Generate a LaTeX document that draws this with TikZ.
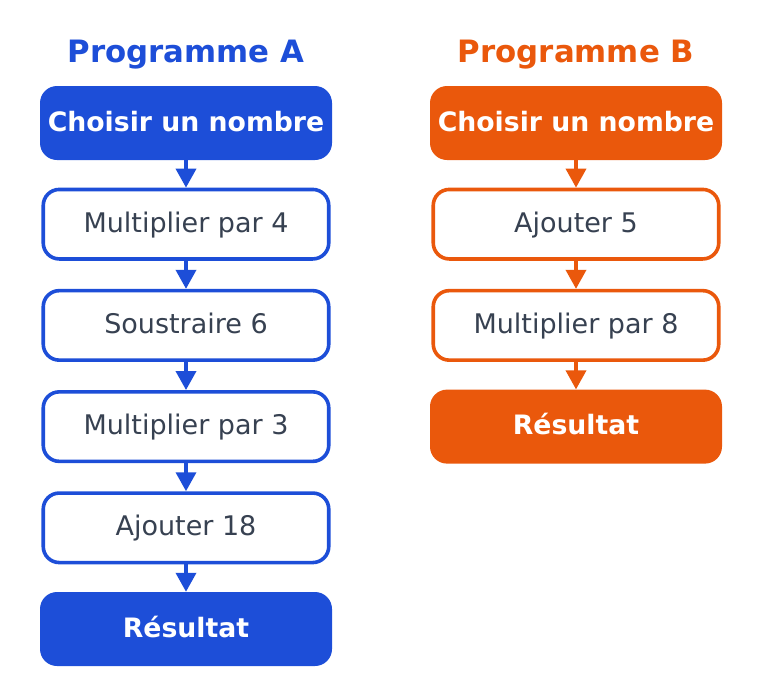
\documentclass[tikz,border=0pt]{standalone}
\usepackage{fontspec}
\setmainfont{DejaVu Sans}
\usetikzlibrary{arrows.meta}
\definecolor{pblue}{HTML}{1D4ED8}
\definecolor{porange}{HTML}{EA580C}
\definecolor{ptext}{HTML}{374151}
\begin{document}
\begin{tikzpicture}[x=1pt,y=-1pt,
  titlestyle/.style={font=\fontsize{30.8}{36}\selectfont\bfseries, anchor=base, inner sep=0pt, text=#1},
  filledbox/.style={fill=#1, draw=none, rounded corners=17pt, minimum width=292pt, minimum height=74pt,
    text=white, font=\fontsize{26.7}{32}\selectfont\bfseries, text height=19.5pt, text depth=3.5pt, inner sep=0pt},
  outbox/.style={draw=#1, line width=3.6pt, fill=white, rounded corners=16pt, minimum width=285.5pt, minimum height=69.5pt,
    text=ptext, font=\fontsize{27}{32}\selectfont, text height=19.5pt, text depth=3.5pt, inner sep=0pt},
  flow/.style={draw=#1, line width=3.6pt, -{Triangle[length=19pt,width=20pt]}}
]
\useasboundingbox (0,0) rectangle (762,699);
% Programme A
\node[titlestyle=pblue] (ta) at (186,62) {Programme A};
\node[filledbox=pblue] (a1) at (186,123) {Choisir un nombre};
\node[outbox=pblue] (a2) at (186,224.2) {Multiplier par 4};
\node[outbox=pblue] (a3) at (186,325.4) {Soustraire 6};
\node[outbox=pblue] (a4) at (186,426.6) {Multiplier par 3};
\node[outbox=pblue] (a5) at (186,527.8) {Ajouter 18};
\node[filledbox=pblue] (a6) at (186,629) {Résultat};
\draw[flow=pblue] (a1.south) -- (a2.north);
\draw[flow=pblue] (a2.south) -- (a3.north);
\draw[flow=pblue] (a3.south) -- (a4.north);
\draw[flow=pblue] (a4.south) -- (a5.north);
\draw[flow=pblue] (a5.south) -- (a6.north);
% Programme B
\node[titlestyle=porange] (tb) at (576,62) {Programme B};
\node[filledbox=porange] (b1) at (576,123) {Choisir un nombre};
\node[outbox=porange] (b2) at (576,224.2) {Ajouter 5};
\node[outbox=porange] (b3) at (576,325.4) {Multiplier par 8};
\node[filledbox=porange] (b4) at (576,426.6) {Résultat};
\draw[flow=porange] (b1.south) -- (b2.north);
\draw[flow=porange] (b2.south) -- (b3.north);
\draw[flow=porange] (b3.south) -- (b4.north);
\end{tikzpicture}
\end{document}
